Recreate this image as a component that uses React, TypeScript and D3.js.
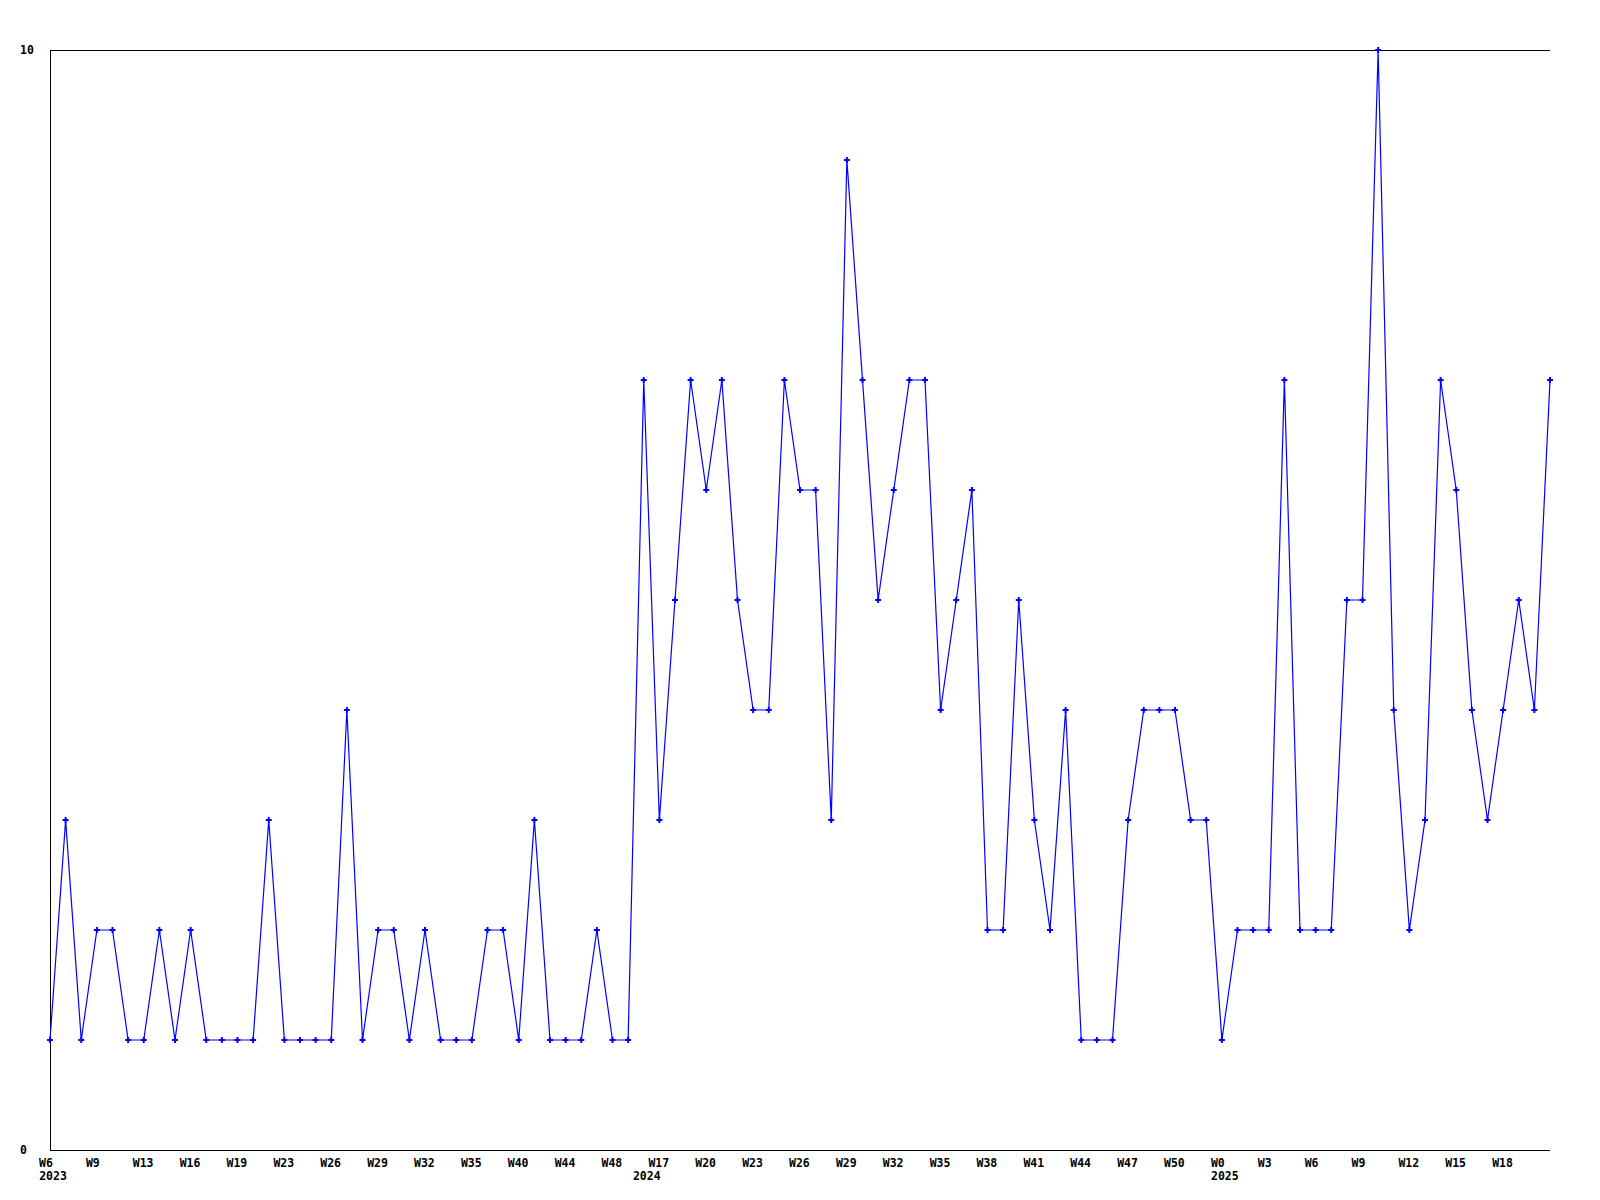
import React from "react";
import * as d3 from "d3";

const settings = {
  width: 1600,
  height: 1200,
  margin: { top: 50, right: 50, bottom: 50, left: 50 },
};

// one value per week sample, in order
const values: number[] = [
  1, 3, 1, 2, 2, 1, 1, 2, 1, 2, 1, 1, 1, 1, 3, 1, 1, 1, 1, 4,
  1, 2, 2, 1, 2, 1, 1, 1, 2, 2, 1, 3, 1, 1, 1, 2, 1, 1, 7, 3,
  5, 7, 6, 7, 5, 4, 4, 7, 6, 6, 3, 9, 7, 5, 6, 7, 7, 4, 5, 6,
  2, 2, 5, 3, 2, 4, 1, 1, 1, 3, 4, 4, 4, 3, 3, 1, 2, 2, 2, 7,
  2, 2, 2, 5, 5, 10, 4, 2, 3, 7, 6, 4, 3, 4, 5, 4, 7,
];

// week labels, shown on every third sample
const weekLabels: string[] = [
  "W6", "W9", "W13", "W16", "W19", "W23", "W26", "W29", "W32", "W35",
  "W40", "W44", "W48", "W17", "W20", "W23", "W26", "W29", "W32", "W35",
  "W38", "W41", "W44", "W47", "W50", "W0", "W3", "W6", "W9", "W12",
  "W15", "W18",
];
const labelStep = 3;

// year labels and the sample index where each year starts
const years: string[] = ["2023", "2024", "2025"];
const yearStarts: number[] = [0, 38, 75];

const yTicks: number[] = [0, 10];

const font = "'DejaVu Sans Mono', monospace";

export default function App() {
  const { width, height, margin } = settings;
  const x = d3
    .scaleLinear()
    .domain([0, values.length - 1])
    .range([margin.left, width - margin.right]);
  const y = d3
    .scaleLinear()
    .domain([0, 10])
    .range([height - margin.bottom, margin.top]);

  const line = d3
    .line<number>()
    .x((_, i) => x(i))
    .y((d) => y(d));

  const marker = d3.symbol().type(d3.symbolCross).size(20)();

  const bottom = height - margin.bottom;

  return (
    <svg
      width={width}
      height={height}
      style={{ position: "absolute", left: 0, top: 0, background: "#fff" }}
    >
      <g stroke="#000" strokeWidth={1} shapeRendering="crispEdges">
        <line x1={margin.left} x2={margin.left} y1={margin.top} y2={bottom} />
        <line x1={margin.left} x2={width - margin.right} y1={margin.top} y2={margin.top} />
        <line x1={margin.left} x2={width - margin.right} y1={bottom} y2={bottom} />
      </g>

      <g fontFamily={font} fontWeight="bold" fontSize={11.5} fill="#000">
        {yTicks.map((t) => (
          <text key={t} x={20} y={y(t)} dy="0.36em">
            {t}
          </text>
        ))}
        {weekLabels.map((l, k) => (
          <text key={k} x={x(k * labelStep) - 11} y={bottom + 17}>
            {l}
          </text>
        ))}
        {years.map((yr, k) => (
          <text
            key={yr}
            x={x(yearStarts[k]) + 3}
            y={bottom + 30}
            textAnchor="middle"
          >
            {yr}
          </text>
        ))}
      </g>

      <path d={line(values) || ""} fill="none" stroke="#0000ff" strokeWidth={1.2} />
      <g fill="#0000ff">
        {values.map((v, i) => (
          <path key={i} d={marker || ""} transform={`translate(${x(i)},${y(v)})`} />
        ))}
      </g>
    </svg>
  );
}
